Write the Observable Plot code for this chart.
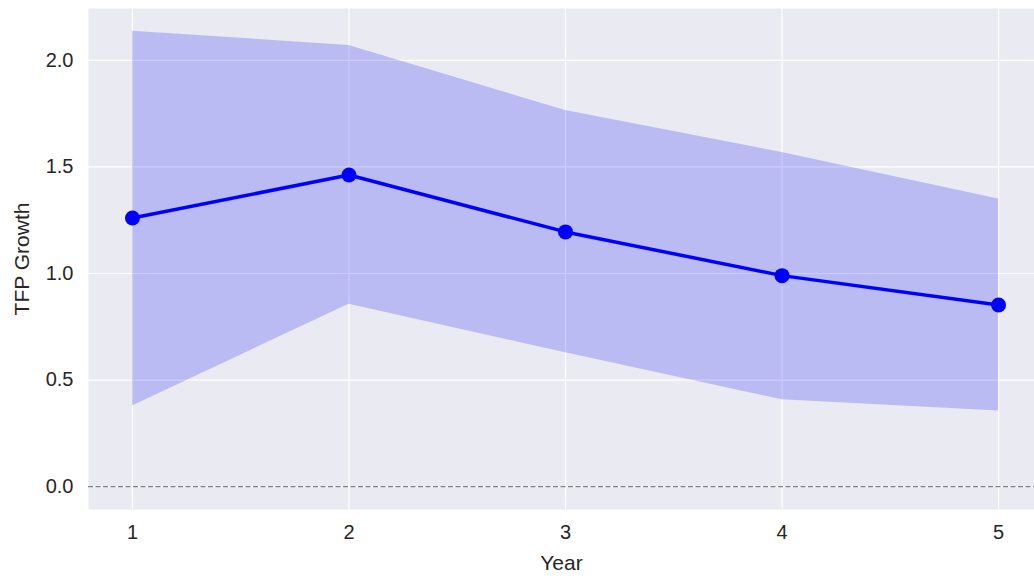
<!DOCTYPE html>
<html>
<head>
<meta charset="utf-8">
<script src="https://cdn.jsdelivr.net/npm/d3@7"></script>
<script src="https://cdn.jsdelivr.net/npm/@observablehq/plot@0.6"></script>
<style>
  html, body { margin: 0; padding: 0; background: #fff; }
  #chart svg { display: block; }
</style>
</head>
<body>
<div id="chart"></div>
<script>
const years = [1, 2, 3, 4, 5];
const meanGrowth = [1.26, 1.462, 1.195, 0.99, 0.852];
const upperBound = [2.136, 2.07, 1.764, 1.568, 1.349];
const lowerBound = [0.379, 0.856, 0.628, 0.408, 0.355];
const yTicks = [0, 0.5, 1.0, 1.5, 2.0];

const data = years.map((y, i) => ({year: y, mean: meanGrowth[i], lo: lowerBound[i], hi: upperBound[i]}));

const font = "'Liberation Sans', Arial, sans-serif";

const chart = Plot.plot({
  width: 1034,
  height: 578,
  marginLeft: 88,
  marginRight: 0,
  marginTop: 8,
  marginBottom: 69,
  style: {fontFamily: font, color: "#262626", background: "white"},
  x: {domain: [0.797, 5.166]},
  y: {domain: [-0.107, 2.243]},
  marks: [
    Plot.frame({fill: "#EAEAF2", stroke: null}),
    Plot.gridX(years, {stroke: "white", strokeOpacity: 1, strokeWidth: 1.2}),
    Plot.gridY(yTicks, {stroke: "white", strokeOpacity: 1, strokeWidth: 1.2}),
    Plot.areaY(data, {x: "year", y1: "lo", y2: "hi", fill: "blue", fillOpacity: 0.2}),
    Plot.ruleY([0], {stroke: "gray", strokeWidth: 1.3, strokeDasharray: "5,2.5"}),
    Plot.line(data, {x: "year", y: "mean", stroke: "blue", strokeWidth: 3.5}),
    Plot.dot(data, {x: "year", y: "mean", fill: "blue", r: 7.5}),
    Plot.axisX(years, {tickFormat: d => String(d), tickSize: 0, tickPadding: 15, fill: "#262626",
      label: "Year", labelAnchor: "center", labelArrow: "none", labelOffset: 60}),
    Plot.axisY(yTicks, {tickFormat: d => d.toFixed(1), tickSize: 0, tickPadding: 15, fill: "#262626",
      label: "TFP Growth", labelAnchor: "center", labelArrow: "none", labelOffset: 74})
  ]
});
d3.select(chart).selectAll("g[aria-label$='tick label']").attr("font-size", null).style("font-size", "20px")
  .selectAll("text").style("font-size", "20px");
d3.select(chart).selectAll("g[aria-label='x-axis label'], g[aria-label='y-axis label']").attr("font-size", null)
  .selectAll("text").style("font-size", "21px");
document.getElementById("chart").append(chart);
</script>
</body>
</html>
